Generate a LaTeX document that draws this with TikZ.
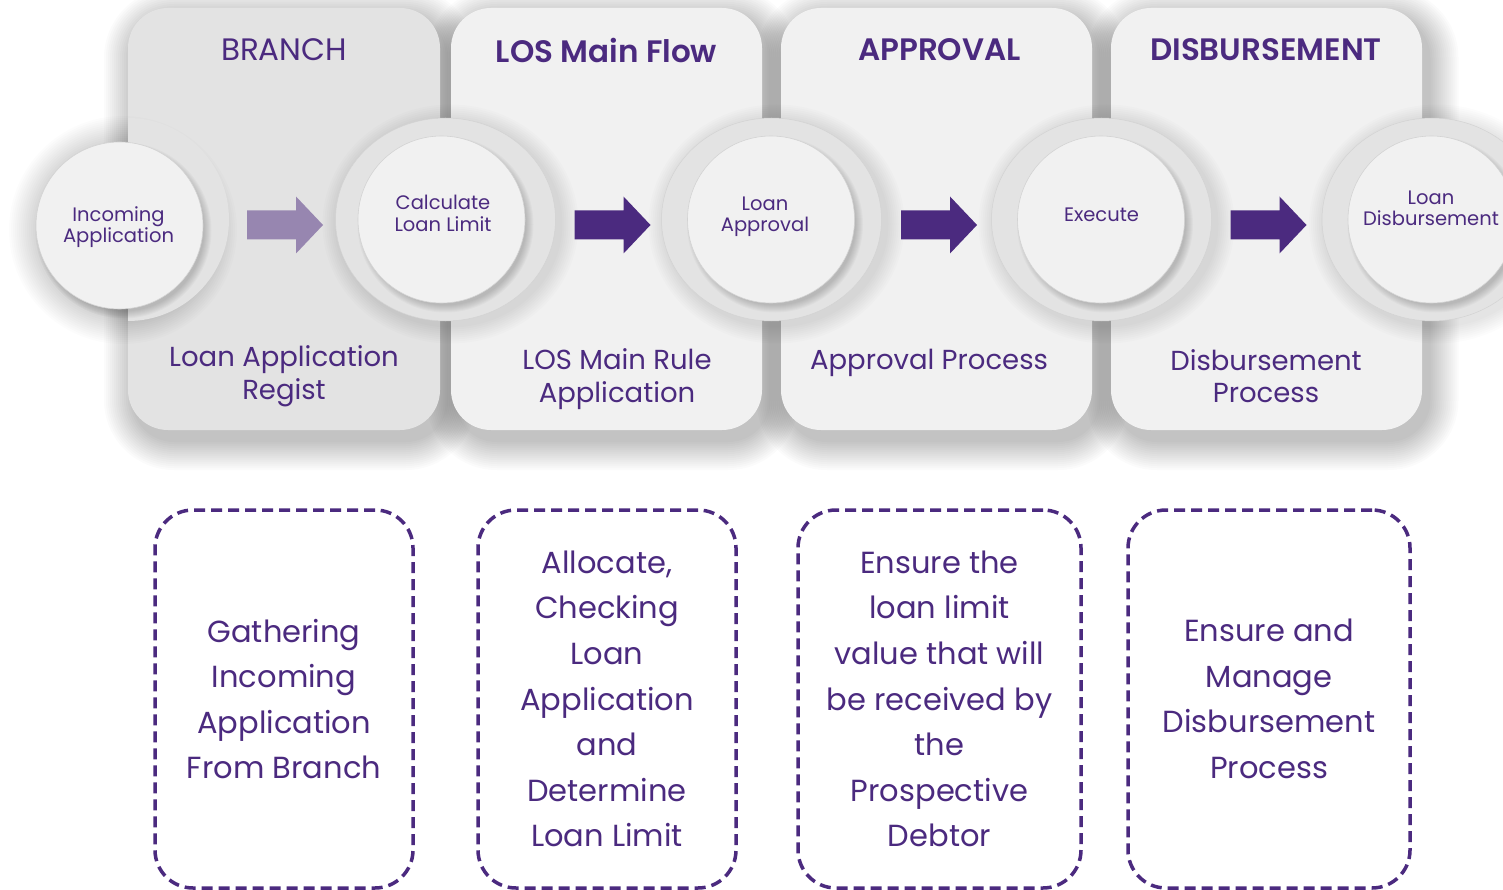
\documentclass[tikz,border=0pt]{standalone}
\usepackage{fontspec}
\setmainfont{Poppins}
\newfontfamily\headfont{Poppins}[UprightFont={* SemiBold}]
\usetikzlibrary{calc}

\definecolor{ink}{HTML}{4B2A7F}
\definecolor{inksoft}{HTML}{9786B0}
\definecolor{branchgray}{HTML}{E3E3E3}
\definecolor{panelgray}{HTML}{F1F1F1}
\definecolor{ringgray}{HTML}{E3E3E3}
\definecolor{ringedge}{HTML}{D3D3D3}
\definecolor{discgray}{HTML}{F1F1F1}

\tikzset{
  panel/.style={rectangle, rounded corners=40pt, inner sep=0pt,
    minimum width=312pt, minimum height=422pt},
  heading/.style={text=ink, inner sep=0pt, font=\fontsize{31}{36}\headfont},
  headinglight/.style={text=ink, inner sep=0pt, font=\fontsize{31}{36}\selectfont},
  stage/.style={text=ink, align=center, inner sep=0pt, font=\fontsize{27.5}{32.5}\selectfont},
  disc/.style={circle, fill=discgray, draw=ringedge, line width=0.6pt,
    minimum size=167pt, inner sep=0pt},
  disctext/.style={text=ink, align=center, inner sep=0pt, font=\fontsize{19.5}{21.5}\selectfont},
  notebox/.style={draw=ink, line width=3.5pt, dash pattern=on 11pt off 6pt,
    rounded corners=38pt, inner sep=0pt, minimum height=378pt},
  notetext/.style={text=ink, align=center, inner sep=0pt, font=\fontsize{30.5}{45.6}\selectfont},
  blockarrow/.pic={\fill[pic actions] (-38,-14.5) -- (11,-14.5) -- (11,-28.5) -- (38,0)
    -- (11,28.5) -- (11,14.5) -- (-38,14.5) -- cycle;}
}

\begin{document}
\begin{tikzpicture}[x=1pt,y=-1pt]
\useasboundingbox (0,0) rectangle (1503,890);
\fill[white] (0,0) rectangle (1503,890);

% soft shadows under the four stage panels
\foreach \cx in {284,606.5,936.5,1266.5}{
  \foreach \i [evaluate=\i as \r using 40+\i] in {2,4,...,30}{
    \fill[black, opacity=0.015, rounded corners=\r pt]
      (\cx-156-\i+6, 8-\i+10) rectangle (\cx+156+\i+6, 430+\i+10);
  }
}

% stage panels
\node[panel, fill=branchgray] (pBranch) at (284,219) {};
\node[panel, fill=panelgray, minimum width=311pt] (pLos) at (606.5,219) {};
\node[panel, fill=panelgray, minimum width=311pt] (pApproval) at (936.5,219) {};
\node[panel, fill=panelgray, minimum width=311pt] (pDisb) at (1266.5,219) {};

% shadows round the rings and the first disc
\foreach \cx in {445.5,771.5,1101.5,1432}{
  \foreach \i in {2,4,...,18}{
    \fill[black, opacity=0.011] (\cx+5,224) ellipse [x radius=110+\i, y radius=101.5+\i];
  }
}
\foreach \i in {2,4,...,30}{
  \fill[black, opacity=0.012] (123,230) circle [radius=84+\i];
}

% rings that hold the step discs
\begin{scope}
  \clip (128,0) rectangle (1503,890);
  \fill[ringgray] (128,219.5) ellipse [x radius=101, y radius=101.5];
\end{scope}
\foreach \cx in {445.5,771.5,1101.5,1432}{
  \fill[ringgray] (\cx,219.5) ellipse [x radius=110, y radius=101.5];
  \draw[ringedge, line width=0.5pt] (\cx,219.5) ellipse [x radius=110, y radius=101.5];
}

% shadows of the discs inside the rings
\foreach \cx/\cy in {119.5/225.5,441.5/219.5,771/219.5,1101/219.5,1431.5/219.5}{
  \foreach \i in {1,2,...,8}{
    \fill[black, opacity=0.022] (\cx+4,\cy+5) circle [radius=80+\i];
  }
}

% step discs
\node[disc] (cIncoming) at (119.5,225.5) {};
\node[disc] (cCalc) at (441.5,219.5) {};
\node[disc] (cApprove) at (771,219.5) {};
\node[disc] (cExecute) at (1101,219.5) {};
\node[disc] (cDisburse) at (1431.5,219.5) {};

\node[disctext] (tIncoming) at (118.5,227) {Incoming\\Application};
\node[disctext] (tCalc) at (443,213.5) {Calculate\\Loan Limit};
\node[disctext] (tApprove) at (765,216.5) {Loan\\Approval};
\node[disctext] (tExecute) at (1101.5,215) {Execute};
\node[disctext] (tDisburse) at (1431,208.5) {Loan\\Disbursement};

% block arrows between the steps
\pic[fill=inksoft] (aOne) at (285,225) {blockarrow};
\pic[fill=ink] (aTwo) at (612.5,225) {blockarrow};
\pic[fill=ink] (aThree) at (939,225) {blockarrow};
\pic[fill=ink] (aFour) at (1268.5,225) {blockarrow};

% panel headings
\node[headinglight] (hBranch) at (284,50) {BRANCH};
\node[heading] (hLos) at (606.5,50) {LOS Main Flow};
\node[heading] (hApproval) at (939.5,50) {APPROVAL};
\node[heading] (hDisb) at (1266,50) {DISBURSEMENT};

% panel captions
\node[stage] (sBranch) at (284,376) {Loan Application\\Regist};
\node[stage] (sLos) at (617,379) {LOS Main Rule\\Application};
\node[stage] (sApproval) at (929,363) {Approval Process};
\node[stage] (sDisb) at (1266,376) {Disbursement\\Process};

% dashed notes under each stage
\node[notebox, minimum width=258pt] (nBranch) at (284,699) {};
\node[notebox, minimum width=258pt] (nLos) at (607,699) {};
\node[notebox, minimum width=283pt] (nApproval) at (939.5,699) {};
\node[notebox, minimum width=282pt] (nDisb) at (1269,699) {};

\node[notetext] (xBranch) at (nBranch) {Gathering\\Incoming\\Application\\From Branch};
\node[notetext] (xLos) at (nLos) {Allocate,\\Checking\\Loan\\Application\\and\\Determine\\Loan Limit};
\node[notetext] (xApproval) at (nApproval) {Ensure the\\loan limit\\value that will\\be received by\\the\\Prospective\\Debtor};
\node[notetext] (xDisb) at (nDisb) {Ensure and\\Manage\\Disbursement\\Process};
\end{tikzpicture}
\end{document}
